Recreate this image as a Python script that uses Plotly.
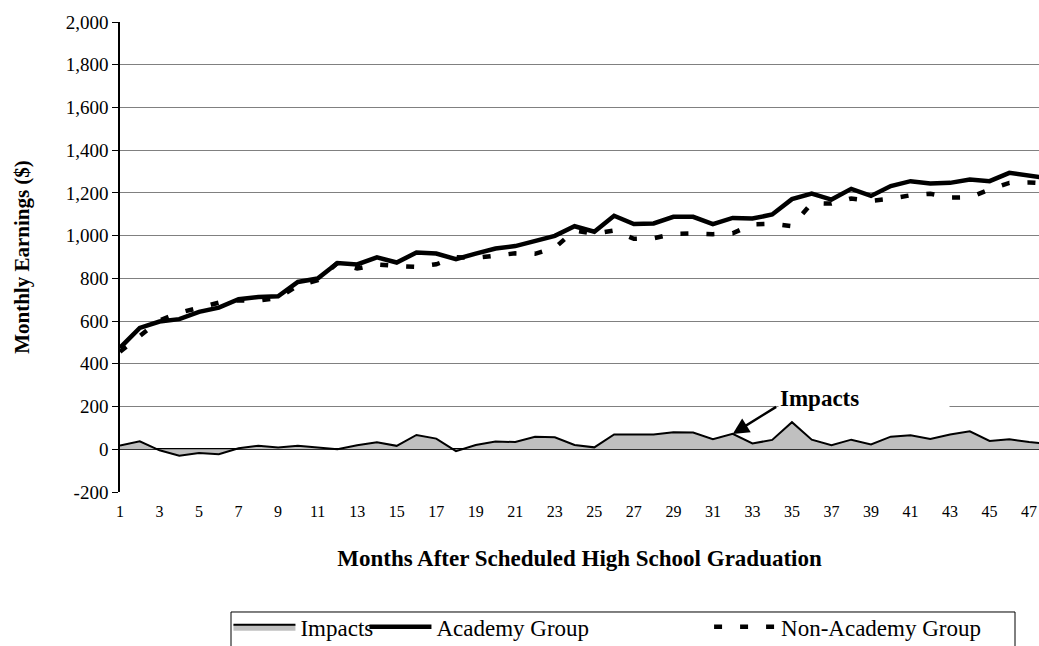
import plotly.graph_objects as go

months = list(range(1, 49))
academy = [475, 568, 598, 609, 643, 663, 702, 713, 716, 783, 799, 872,
           865, 898, 874, 921, 916, 890, 916, 940, 951, 974, 999, 1044,
           1018, 1093, 1054, 1057, 1088, 1088, 1054, 1083, 1080, 1099, 1171, 1197,
           1169, 1219, 1186, 1232, 1255, 1244, 1247, 1263, 1255, 1294, 1283, 1268]
non_academy = [457, 531, 603, 639, 660, 686, 697, 696, 708, 766, 791, 872,
               846, 865, 858, 854, 866, 899, 896, 904, 917, 915, 943, 1024,
               1009, 1024, 985, 988, 1008, 1010, 1007, 1011, 1053, 1055, 1044, 1152,
               1150, 1174, 1163, 1173, 1189, 1196, 1178, 1179, 1216, 1247, 1249, 1243]
impacts = [18, 37, -5, -30, -17, -23, 5, 17, 8, 17, 8, 0,
           19, 33, 16, 67, 50, -9, 20, 36, 34, 59, 56, 20,
           9, 69, 69, 69, 80, 78, 47, 72, 27, 44, 127, 45,
           19, 45, 23, 59, 66, 48, 69, 84, 39, 47, 34, 25]
x_ticks = list(range(1, 48, 2))
y_ticks = list(range(-200, 2001, 200))
y_tick_text = ["-200", "0", "200", "400", "600", "800", "1,000",
               "1,200", "1,400", "1,600", "1,800", "2,000"]

FONT = "Liberation Serif"

fig = go.Figure()
fig.add_trace(go.Scatter(
    x=months, y=impacts, name="Impacts", mode="lines",
    fill="tozeroy", fillcolor="#C0C0C0",
    line=dict(color="black", width=2), legend="legend"))
fig.add_trace(go.Scatter(
    x=months, y=academy, name="Academy Group", mode="lines",
    line=dict(color="black", width=4.5), legend="legend2"))
fig.add_trace(go.Scatter(
    x=months, y=non_academy, name="Non-Academy Group", mode="lines",
    line=dict(color="black", width=4.5, dash="8px,18px"), legend="legend3"))

leg_common = dict(orientation="h", font=dict(family=FONT, size=23, color="black"),
                  bgcolor="rgba(0,0,0,0)", borderwidth=0, yanchor="middle",
                  xanchor="left", y=-0.287, itemwidth=62)

fig.update_layout(
    width=1039, height=646,
    margin=dict(l=120, r=0, t=22, b=154, autoexpand=False),
    paper_bgcolor="white", plot_bgcolor="white",
    font=dict(family=FONT, color="black"),
    showlegend=True,
    legend=dict(x=0.118, **leg_common),
    legend2=dict(x=0.266, **leg_common),
    legend3=dict(x=0.641, **leg_common),
    xaxis=dict(
        range=[1, 47.5], tickmode="array", tickvals=x_ticks, automargin=False,
        showgrid=False, zeroline=False, showline=False, ticks="",
        ticklabelstandoff=8, ticklabeloverflow="allow",
        tickfont=dict(family=FONT, size=16, color="black"),
        title=dict(text="<b>Months After Scheduled High School Graduation</b>",
                   font=dict(family=FONT, size=23, color="black"), standoff=30)),
    yaxis=dict(
        range=[-200, 2000], tickmode="array", tickvals=y_ticks, ticktext=y_tick_text,
        automargin=False,
        showgrid=True, gridcolor="#808080", gridwidth=1,
        zeroline=True, zerolinecolor="black", zerolinewidth=2,
        showline=True, linecolor="black", linewidth=1.5,
        ticks="outside", ticklen=6, tickcolor="black",
        tickfont=dict(family=FONT, size=19, color="black"),
        title=dict(text="<b>Monthly Earnings ($)</b>",
                   font=dict(family=FONT, size=21, color="black"), standoff=30)),
    shapes=[dict(type="rect", xref="paper", yref="paper",
                 x0=0.1208, x1=0.9739, y0=-0.2553, y1=-0.36,
                 line=dict(color="black", width=1), fillcolor="rgba(0,0,0,0)")],
    annotations=[
        dict(x=32, y=72, xref="x", yref="y", text="", showarrow=True,
             ax=45, ay=-28, arrowhead=2, arrowsize=1.3, arrowwidth=2.5,
             arrowcolor="black"),
        dict(x=34.3, y=240, xref="x", yref="y", text="<b>Impacts</b>",
             showarrow=False, xanchor="left", yanchor="middle", align="left",
             width=168, height=28, bgcolor="white",
             font=dict(family=FONT, size=23, color="black")),
    ],
)

fig.write_html("out.html", config={"displayModeBar": False},
               post_script="document.body.style.margin='0px';")
